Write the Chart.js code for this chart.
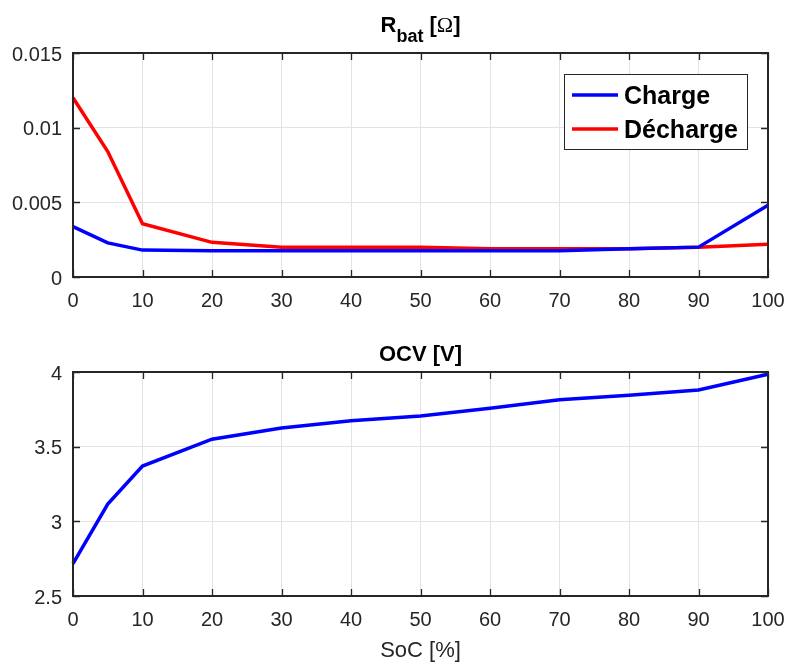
<!DOCTYPE html>
<html>
<head>
<meta charset="utf-8">
<script src="https://cdn.jsdelivr.net/npm/chart.js@4.4.0/dist/chart.umd.min.js"></script>
<style>
  html, body { margin: 0; padding: 0; background: #fff; }
  #wrap { position: relative; width: 787px; height: 666px; }
  .pane { position: absolute; left: 0; width: 787px; }
  #p1 { top: 0; height: 330px; }
  #p2 { top: 330px; height: 336px; }
</style>
</head>
<body>
<div id="wrap">
  <div class="pane" id="p1"><canvas id="rbatChart" width="787" height="330"></canvas></div>
  <div class="pane" id="p2"><canvas id="ocvChart" width="787" height="336"></canvas></div>
</div>
<script>
/* Rbat et OCV en fonction du SoC - deux sous-graphes façon MATLAB */

const soc = [0, 5, 10, 20, 30, 40, 50, 60, 70, 80, 90, 100];
const rCharge = [0.00337, 0.00228, 0.0018, 0.00175, 0.00175, 0.00175, 0.00175, 0.00175, 0.00175, 0.0019, 0.002, 0.0048];
const rDecharge = [0.012, 0.0084, 0.00357, 0.00232, 0.002, 0.002, 0.002, 0.0019, 0.0019, 0.0019, 0.002, 0.0022];
const ocv = [2.717, 3.115, 3.37, 3.55, 3.625, 3.673, 3.705, 3.757, 3.814, 3.844, 3.88, 3.985];

const socTicks = [0, 10, 20, 30, 40, 50, 60, 70, 80, 90, 100];
const rTicks = [0, 0.005, 0.01, 0.015];
const rTickLabels = ["0", "0.005", "0.01", "0.015"];
const ocvTicks = [2.5, 3, 3.5, 4];
const ocvTickLabels = ["2.5", "3", "3.5", "4"];

const INK = "#262626";
const FONT = "'Liberation Sans', Arial, Helvetica, sans-serif";

Chart.defaults.font.family = FONT;
Chart.defaults.color = INK;

// cadre + graduations internes sur les 4 côtés
const framePlugin = {
    id: "frame",
    afterDraw: function (chart) {
        const a = chart.chartArea;
        const ctx = chart.ctx;
        const xs = chart.scales.x, ys = chart.scales.y;
        const tl = 7;
        ctx.save();
        ctx.strokeStyle = INK;
        ctx.lineWidth = 1.3;
        ctx.beginPath();
        xs.ticks.forEach(function (t) {
            const px = Math.round(xs.getPixelForValue(t.value)) + 0.5;
            ctx.moveTo(px, a.bottom); ctx.lineTo(px, a.bottom - tl);
            ctx.moveTo(px, a.top); ctx.lineTo(px, a.top + tl);
        });
        ys.ticks.forEach(function (t) {
            const py = Math.round(ys.getPixelForValue(t.value)) + 0.5;
            ctx.moveTo(a.left, py); ctx.lineTo(a.left + tl, py);
            ctx.moveTo(a.right, py); ctx.lineTo(a.right - tl, py);
        });
        ctx.stroke();
        ctx.lineWidth = 2;
        ctx.strokeRect(a.left, a.top, a.right - a.left, a.bottom - a.top);
        ctx.restore();
    }
};

function lineDataset(label, data, color) {
    return {
        label: label,
        data: soc.map(function (x, i) { return { x: x, y: data[i] }; }),
        borderColor: color,
        backgroundColor: color,
        borderWidth: 3.5,
        pointRadius: 0,
        tension: 0,
        clip: false
    };
}

function baseOptions(yMin, yMax, yTicks, yLabels, padTop, xHeight, xTitle) {
    return {
        responsive: false,
        animation: false,
        layout: { padding: { left: 0, right: 19, top: padTop, bottom: 0 } },
        plugins: { legend: { display: false }, tooltip: { enabled: false }, title: { display: false } },
        scales: {
            x: {
                type: "linear",
                min: 0, max: 100,
                afterBuildTicks: function (s) { s.ticks = socTicks.map(function (v) { return { value: v }; }); },
                afterFit: function (s) { s.height = xHeight; s.paddingLeft = 0; s.paddingRight = 0; },
                grid: { color: "#e3e3e3", lineWidth: 1, drawTicks: false },
                border: { display: false },
                ticks: { font: { size: 20 }, color: INK, padding: 12, maxRotation: 0 },
                title: xTitle ? { display: true, text: xTitle, font: { size: 22 }, color: INK, padding: { top: 4, bottom: 2 } } : { display: false }
            },
            y: {
                type: "linear",
                min: yMin, max: yMax,
                afterBuildTicks: function (s) { s.ticks = yTicks.map(function (v) { return { value: v }; }); },
                afterFit: function (s) { s.width = 73; s.paddingTop = 0; s.paddingBottom = 0; },
                grid: { color: "#e3e3e3", lineWidth: 1, drawTicks: false },
                border: { display: false },
                ticks: {
                    font: { size: 20 }, color: INK, padding: 11, labelOffset: 2,
                    callback: function (v) {
                        const i = yTicks.indexOf(v);
                        return i >= 0 ? yLabels[i] : "";
                    }
                }
            }
        }
    };
}

/* ---------- 1. Rbat ---------- */
const rbatTitle = {
    id: "rbatTitle",
    afterDraw: function (chart) {
        const ctx = chart.ctx;
        const a = chart.chartArea;
        const parts = [
            { t: "R", f: "bold 22px " + FONT, dy: 0 },
            { t: "bat", f: "bold 18px " + FONT, dy: 10 },
            { t: " [", f: "bold 22px " + FONT, dy: 0 },
            { t: "\u03A9", f: "22px 'Liberation Serif', 'Times New Roman', serif", dy: 0 },
            { t: "]", f: "bold 22px " + FONT, dy: 0 }
        ];
        ctx.save();
        ctx.fillStyle = "#000";
        ctx.textBaseline = "alphabetic";
        let w = 0;
        parts.forEach(function (p) { ctx.font = p.f; p.w = ctx.measureText(p.t).width; w += p.w; });
        let x = (a.left + a.right) / 2 - w / 2;
        parts.forEach(function (p) {
            ctx.font = p.f;
            ctx.fillText(p.t, x, 32 + p.dy);
            x += p.w;
        });
        ctx.restore();
    }
};

const legendBox = {
    id: "legendBox",
    afterDraw: function (chart) {
        const ctx = chart.ctx;
        const bx = 564, by = 74, bw = 183, bh = 75;
        ctx.save();
        ctx.fillStyle = "#fff";
        ctx.fillRect(bx, by, bw, bh);
        ctx.strokeStyle = INK;
        ctx.lineWidth = 1;
        ctx.strokeRect(bx + 0.5, by + 0.5, bw, bh);
        const rows = [95, 129];
        chart.data.datasets.forEach(function (ds, i) {
            const y = rows[i];
            ctx.strokeStyle = ds.borderColor;
            ctx.lineWidth = 3.5;
            ctx.beginPath();
            ctx.moveTo(572, y);
            ctx.lineTo(618, y);
            ctx.stroke();
            ctx.fillStyle = "#000";
            ctx.font = "bold 25px " + FONT;
            ctx.textBaseline = "alphabetic";
            ctx.fillText(ds.label, 624, y + 9);
        });
        ctx.restore();
    }
};

new Chart(document.getElementById("rbatChart").getContext("2d"), {
    type: "line",
    data: {
        datasets: [
            lineDataset("Charge", rCharge, "#0000FF"),
            lineDataset("D\u00e9charge", rDecharge, "#FF0000")
        ]
    },
    options: baseOptions(0, 0.015, rTicks, rTickLabels, 53, 53, null),
    plugins: [framePlugin, rbatTitle, legendBox]
});

/* ---------- 2. OCV ---------- */
const ocvTitle = {
    id: "ocvTitle",
    afterDraw: function (chart) {
        const ctx = chart.ctx;
        const a = chart.chartArea;
        ctx.save();
        ctx.fillStyle = "#000";
        ctx.font = "bold 22px " + FONT;
        ctx.textAlign = "center";
        ctx.textBaseline = "alphabetic";
        ctx.fillText("OCV [V]", (a.left + a.right) / 2, 31);
        ctx.restore();
    }
};

new Chart(document.getElementById("ocvChart").getContext("2d"), {
    type: "line",
    data: { datasets: [lineDataset("OCV", ocv, "#0000FF")] },
    options: baseOptions(2.5, 4, ocvTicks, ocvTickLabels, 42, 70, "SoC [%]"),
    plugins: [framePlugin, ocvTitle]
});
</script>
</body>
</html>
